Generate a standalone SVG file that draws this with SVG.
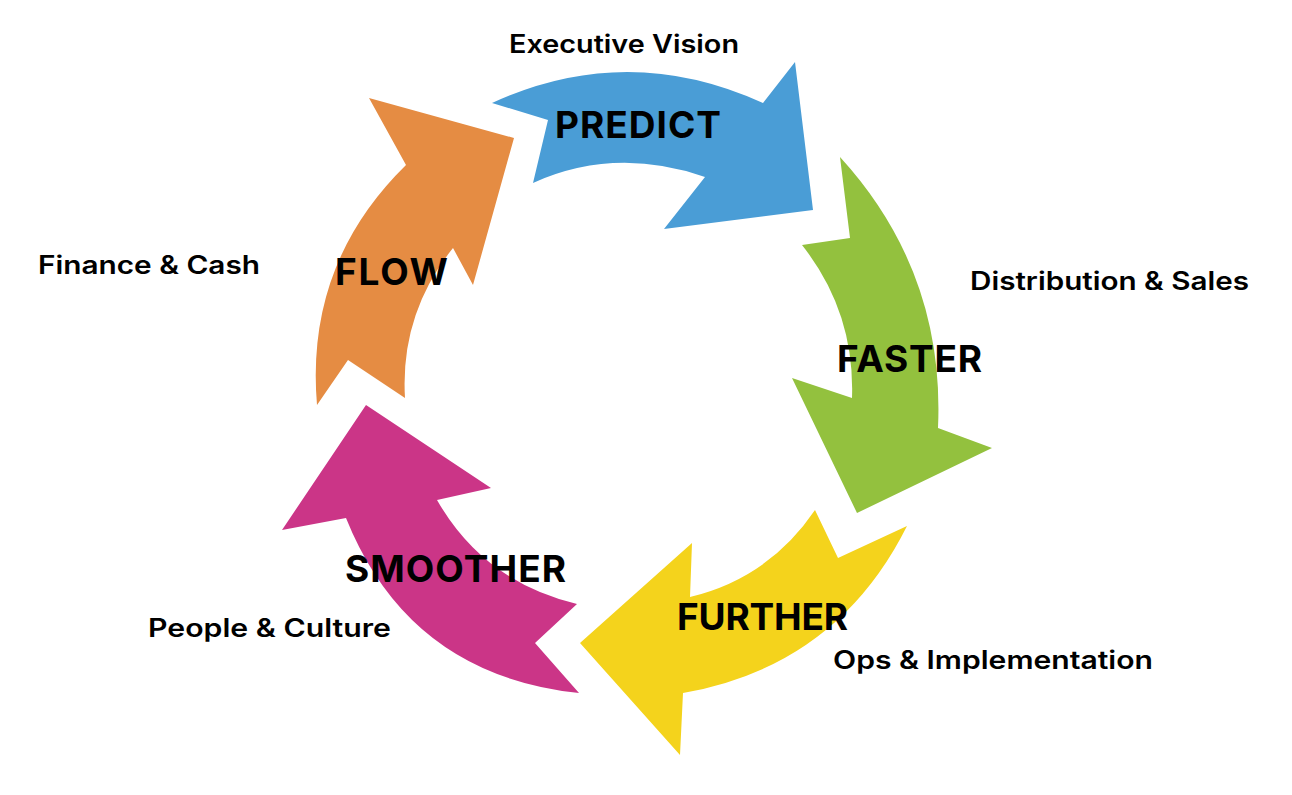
<svg xmlns="http://www.w3.org/2000/svg" width="1292" height="795" viewBox="0 0 1292 795">
<style>
.big{font-family:Inter,"Liberation Sans",sans-serif;font-weight:700;font-size:37px;fill:#000;}
.small{font-family:Inter,"Liberation Sans",sans-serif;font-weight:600;font-size:25px;fill:#000;}
</style>
<rect width="1292" height="795" fill="#fff"/>
<g id="connectors">
<path id="arrow-predict" d="M492,103 Q627,41 763,103 L795,62 L813,210 L664,229 L705,177 Q615,146 533,183 L548,120 Z" fill="#4A9DD6"/>
<path id="arrow-faster" d="M840,157 Q945,272 938,428 L992,448 L857,513 L792,378 L852,398 Q855,312 802,245 L850,238 Z" fill="#93C13E"/>
<path id="arrow-further" d="M907,526 Q837,666 683,693 L680,755 L580,643 L692,543 L690,597 Q769,578 815,510 L838,558 Z" fill="#F4D31C"/>
<path id="arrow-smoother" d="M579,693 Q409,675 346,518 L282,530 L366,405 L491,488 L437,500 Q484,582 577,604 L535,643 Z" fill="#CB3587"/>
<path id="arrow-flow" d="M317,405 Q305,264 406,165 L369,98 L514,138 L473,285 L453,248 Q400,314 405,398 L348,360 Z" fill="#E58C43"/>
</g>
<g id="node-predict">
<text class="big" x="555" y="138" textLength="166">PREDICT</text>
<text class="small" x="509" y="53" textLength="230" lengthAdjust="spacingAndGlyphs">Executive Vision</text>
</g>
<g id="node-faster">
<text class="big" x="837" y="372" textLength="145">FASTER</text>
<text class="small" x="970" y="290" textLength="279" lengthAdjust="spacingAndGlyphs">Distribution &amp; Sales</text>
</g>
<g id="node-further">
<text class="big" x="677" y="630" textLength="171">FURTHER</text>
<text class="small" x="833" y="669" textLength="320" lengthAdjust="spacingAndGlyphs">Ops &amp; Implementation</text>
</g>
<g id="node-smoother">
<text class="big" x="345" y="582" textLength="221">SMOOTHER</text>
<text class="small" x="148" y="637" textLength="243" lengthAdjust="spacingAndGlyphs">People &amp; Culture</text>
</g>
<g id="node-flow">
<text class="big" x="335" y="285" textLength="113">FLOW</text>
<text class="small" x="38" y="274" textLength="222" lengthAdjust="spacingAndGlyphs">Finance &amp; Cash</text>
</g>
</svg>
